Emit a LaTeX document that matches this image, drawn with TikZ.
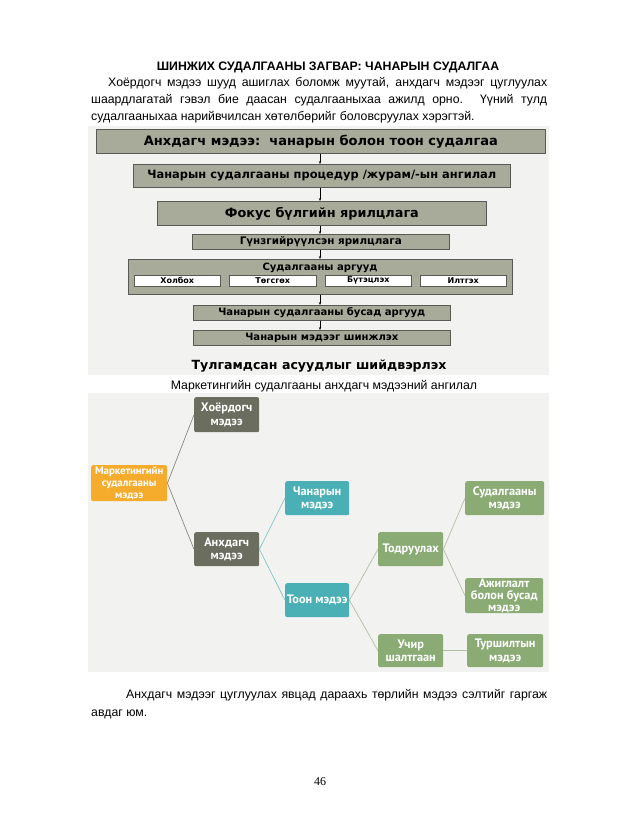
\documentclass[tikz,border=0pt]{standalone}
\usepackage{fontspec}
\setmainfont{Liberation Sans}
\newfontfamily\djv{DejaVu Sans}
\newfontfamily\pts{PT Sans}
\newfontfamily\lserif{Liberation Serif}
\usetikzlibrary{arrows.meta}
\definecolor{bgc}{HTML}{F2F2F0}
\definecolor{fcfill}{HTML}{A9AB9A}
\definecolor{fcline}{HTML}{5A5A55}
\definecolor{olv}{HTML}{6B6D5E}
\definecolor{org}{HTML}{F5AB2C}
\definecolor{teal1}{HTML}{4BB0B5}
\definecolor{grn}{HTML}{8AAB74}
\definecolor{lngray}{HTML}{8A8A80}
\definecolor{lnteal}{HTML}{7FC4C7}
\definecolor{lngrn}{HTML}{B0BFA4}
\newcommand\fitw[2]{\resizebox{#1}{!}{#2}}
\begin{document}
\begin{tikzpicture}[x=1pt,y=-1pt,
  fcbox/.style={draw=fcline, fill=fcfill, line width=0.7pt, inner sep=0pt, anchor=north west},
  wbox/.style={draw=fcline, fill=white, line width=0.5pt, inner sep=0pt, anchor=north west, minimum height=11pt, font=\djv\bfseries\fontsize{8}{9}\selectfont},
  farr/.style={-{Stealth[length=3pt,width=2.4pt]}, line width=0.5pt, black},
  tn/.style={rounded corners=2pt, text=white, inner sep=0pt, anchor=north west, align=center, font=\pts\bfseries\fontsize{12.3}{13.5}\selectfont},
  txt/.style={anchor=base west, inner sep=0pt, font=\fontsize{12.3}{14}\selectfont}
]
\useasboundingbox (0,0) rectangle (638,826);
\fill[white] (0,0) rectangle (638,826);

% heading and paragraph
\node[anchor=base, inner sep=0pt, font=\bfseries\fontsize{12.3}{14}\selectfont] (title) at (328,70.5) {ШИНЖИХ СУДАЛГААНЫ ЗАГВАР: ЧАНАРЫН СУДАЛГАА};
\node[txt] (p1) at (108,87) {\makebox[439pt][s]{Хоёрдогч мэдээ шууд ашиглах боломж муутай, анхдагч мэдээг цуглуулах}};
\node[txt] (p2) at (91,104) {\makebox[456pt][s]{шаардлагатай гэвэл бие даасан судалгааныхаа ажилд орно. Үүний тулд}};
\node[txt] (p3) at (91,120.5) {судалгааныхаа нарийвчилсан хөтөлбөрийг боловсруулах хэрэгтэй.};

% flowchart background
\fill[bgc] (88,126) rectangle (549,375);

\node[fcbox, minimum width=449pt, minimum height=24pt] (b1) at (96,129) {\fitw{354pt}{\djv\bfseries Анхдагч мэдээ:\ \ чанарын болон тоон судалгаа}};
\node[fcbox, minimum width=377pt, minimum height=23pt] (b2) at (133,164) {\fitw{349pt}{\djv\bfseries Чанарын судалгааны процедур /журам/-ын ангилал}};
\node[fcbox, minimum width=329pt, minimum height=24pt] (b3) at (157,201) {\fitw{194pt}{\djv\bfseries Фокус бүлгийн ярилцлага}};
\node[fcbox, minimum width=257pt, minimum height=15pt] (b4) at (192,234) {\fitw{162pt}{\djv\bfseries Гүнзгийрүүлсэн ярилцлага}};
\node[fcbox, minimum width=384pt, minimum height=35pt] (b5) at (128,259) {};
\node[anchor=center, inner sep=0pt] (b5t) at (320,267.5) {\fitw{115pt}{\djv\bfseries Судалгааны аргууд}};
\node[wbox, minimum width=86pt] (m1) at (134,275) {Холбох};
\node[wbox, minimum width=87pt] (m2) at (229,275) {Төгсгөх};
\node[wbox, minimum width=86pt] (m3) at (325,275) {Бүтэцлэх};
\node[wbox, minimum width=86pt] (m4) at (420,275) {Илтгэх};
\node[fcbox, minimum width=257pt, minimum height=15pt] (b6) at (193,305) {\fitw{207pt}{\djv\bfseries Чанарын судалгааны бусад аргууд}};
\node[fcbox, minimum width=257pt, minimum height=15pt] (b7) at (193,330) {\fitw{153pt}{\djv\bfseries Чанарын мэдээг шинжлэх}};
\node[anchor=center, inner sep=0pt] (b8) at (319,366) {\fitw{255pt}{\djv\bfseries Тулгамдсан асуудлыг шийдвэрлэх}};

\draw[farr] (b1.south -| 320,0) -- (b2.north -| 320,0);
\draw[farr] (b2.south -| 320,0) -- (b3.north -| 320,0);
\draw[farr] (b3.south -| 320,0) -- (b4.north -| 320,0);
\draw[farr] (b4.south -| 320,0) -- (b5.north -| 320,0);
\draw[farr] (b5.south -| 320,0) -- (b6.north -| 320,0);
\draw[farr] (b6.south -| 320,0) -- (b7.north -| 320,0);

% caption
\node[anchor=base, inner sep=0pt, font=\fontsize{12.3}{14}\selectfont] (cap) at (324,389) {Маркетингийн судалгааны анхдагч мэдээний ангилал};

% tree background
\fill[bgc] (88,393) rectangle (549,672);

\node[tn, fill=olv, minimum width=65pt, minimum height=35pt] (hd) at (194,397) {Хоёрдогч\\мэдээ};
\node[tn, fill=org, minimum width=76pt, minimum height=36pt, font=\pts\bfseries\fontsize{10.8}{11.8}\selectfont] (mk) at (91,465) {Маркетингийн\\судалгааны\\мэдээ};
\node[tn, fill=olv, minimum width=65pt, minimum height=34pt] (ah) at (194,532) {Анхдагч\\мэдээ};
\node[tn, fill=teal1, minimum width=64pt, minimum height=34pt] (ch) at (285,481) {Чанарын\\мэдээ};
\node[tn, fill=teal1, minimum width=64pt, minimum height=34pt] (to) at (285,583) {Тоон мэдээ};
\node[tn, fill=grn, minimum width=65pt, minimum height=34pt] (td) at (378,532) {Тодруулах};
\node[tn, fill=grn, minimum width=65pt, minimum height=33pt] (uch) at (378,634) {Учир\\шалтгаан};
\node[tn, fill=grn, minimum width=79pt, minimum height=34pt] (sd) at (465,481) {Судалгааны\\мэдээ};
\node[tn, fill=grn, minimum width=78pt, minimum height=35pt, font=\pts\bfseries\fontsize{12.3}{12.3}\selectfont] (aj) at (465,578) {Ажиглалт\\болон бусад\\мэдээ};
\node[tn, fill=grn, minimum width=76pt, minimum height=33pt] (tr) at (467,634) {Туршилтын\\мэдээ};

\draw[lngray, line width=0.7pt] (mk.east) -- (hd.west);
\draw[lngray, line width=0.7pt] (mk.east) -- (ah.west);
\draw[lnteal, line width=0.7pt] (ah.east) -- (ch.west);
\draw[lnteal, line width=0.7pt] (ah.east) -- (to.west);
\draw[lngrn, line width=0.7pt] (to.east) -- (td.west);
\draw[lngrn, line width=0.7pt] (to.east) -- (uch.west);
\draw[lngrn, line width=0.7pt] (td.east) -- (sd.west);
\draw[lngrn, line width=0.7pt] (td.east) -- (aj.west);
\draw[lngrn, line width=0.7pt] (uch.east) -- (tr.west);

% closing paragraph
\node[txt] (q1) at (126,698) {\makebox[421pt][s]{Анхдагч мэдээг цуглуулах явцад дараахь төрлийн мэдээ сэлтийг гаргаж}};
\node[txt] (q2) at (91,716) {авдаг юм.};
\node[anchor=base, inner sep=0pt, font=\lserif\fontsize{12}{14}\selectfont] (pg) at (320,785) {46};
\end{tikzpicture}
\end{document}
